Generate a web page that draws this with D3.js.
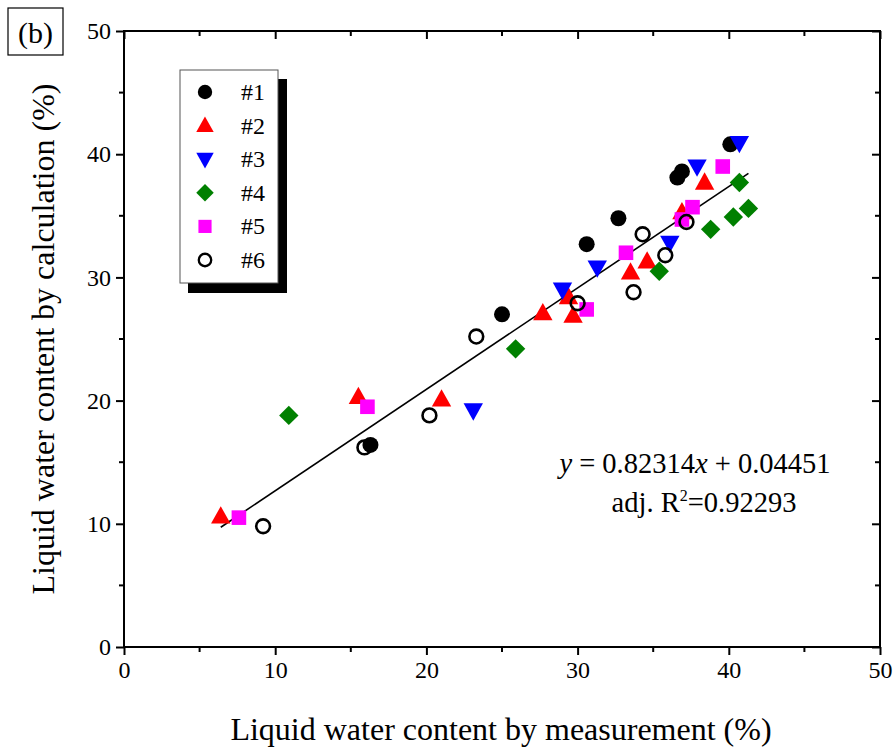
<!DOCTYPE html>
<html>
<head>
<meta charset="utf-8">
<script src="https://cdn.jsdelivr.net/npm/d3@7"></script>
<style>
  html, body { margin: 0; padding: 0; background: #fff; }
  svg { display: block; }
</style>
</head>
<body>
<svg id="chart" width="895" height="752"></svg>
<script>
// Measured vs calculated liquid water content (%) for six samples
const s1 = [[16.3,16.4],[25.0,27.0],[30.6,32.7],[32.7,34.8],[36.6,38.1],[36.9,38.6],[40.1,40.8]];
const s2 = [[6.4,10.6],[15.5,20.3],[21.0,20.1],[27.7,27.1],[29.4,28.4],[29.7,26.9],[33.5,30.4],[34.6,31.3],[36.9,35.3],[38.4,37.7]];
const s3 = [[23.1,19.2],[29.0,29.0],[31.3,30.8],[36.1,32.8],[37.9,39.0],[40.7,40.9]];
const s4 = [[10.9,18.8],[25.9,24.2],[35.4,30.5],[38.8,33.9],[40.3,34.9],[41.3,35.6],[40.7,37.7]];
const s5 = [[7.6,10.5],[16.1,19.5],[30.6,27.4],[33.2,32.0],[36.9,34.7],[37.6,35.7],[39.6,39.0]];
const s6 = [[9.2,9.8],[15.9,16.2],[20.2,18.8],[23.3,25.2],[30.0,27.9],[33.7,28.8],[34.3,33.5],[35.8,31.8],[37.2,34.5]];

const seriesNames = ["#1","#2","#3","#4","#5","#6"];
const majorTicks = [0,10,20,30,40,50];
const minorTicks = [5,15,25,35,45];

// Linear fit (fractions): y = 0.82314 x + 0.04451
const slope = 0.82314, intercept = 0.04451, adjR2 = "0.92293";

const svg = d3.select("#chart");
const L = 124, R = 880, T = 31, B = 647;
const x = d3.scaleLinear().domain([0,50]).range([L,R]);
const y = d3.scaleLinear().domain([0,50]).range([B,T]);

const series = [
  {name: seriesNames[0], data: s1, shape: "circle",   fill: "#000",    stroke: "#000"},
  {name: seriesNames[1], data: s2, shape: "triUp",    fill: "#ff0000", stroke: "#ff0000"},
  {name: seriesNames[2], data: s3, shape: "triDown",  fill: "#0000ff", stroke: "#0000ff"},
  {name: seriesNames[3], data: s4, shape: "diamond",  fill: "#008000", stroke: "#008000"},
  {name: seriesNames[4], data: s5, shape: "square",   fill: "#ff00ff", stroke: "#ff00ff"},
  {name: seriesNames[5], data: s6, shape: "open",     fill: "#fff",    stroke: "#000"}
];

function drawMarker(g, shape, fill, stroke, scale) {
  const k = scale || 1;
  if (shape === "circle") {
    g.append("circle").attr("r", 8*k).attr("fill", fill);
  } else if (shape === "open") {
    g.append("circle").attr("r", 6.9*k).attr("fill", "none").attr("stroke", stroke).attr("stroke-width", 2.6*k);
  } else if (shape === "triUp") {
    const s = 10.2*k;
    g.append("path").attr("d", `M0,${-s}L${s*0.95},${s*0.7}L${-s*0.95},${s*0.7}Z`).attr("fill", fill);
  } else if (shape === "triDown") {
    const s = 10.2*k;
    g.append("path").attr("d", `M0,${s}L${s*0.95},${-s*0.7}L${-s*0.95},${-s*0.7}Z`).attr("fill", fill);
  } else if (shape === "diamond") {
    const s = 9.7*k;
    g.append("path").attr("d", `M0,${-s}L${s},0L0,${s}L${-s},0Z`).attr("fill", fill);
  } else if (shape === "square") {
    const s = 7.3*k;
    g.append("rect").attr("x", -s).attr("y", -s).attr("width", 2*s).attr("height", 2*s).attr("fill", fill);
  }
}

// Regression line spanning the measured range
const allX = series.flatMap(s => s.data.map(d => d[0]));
const xMin = d3.min(allX), xMax = d3.max(allX);
const fit = v => (slope * v/100 + intercept) * 100;
svg.append("line")
  .attr("x1", x(xMin)).attr("y1", y(fit(xMin)))
  .attr("x2", x(xMax)).attr("y2", y(fit(xMax)))
  .attr("stroke", "#000").attr("stroke-width", 1.6);

// Points
series.forEach(s => {
  s.data.forEach(d => {
    const g = svg.append("g").attr("transform", `translate(${x(d[0])},${y(d[1])})`);
    drawMarker(g, s.shape, s.fill, s.stroke);
  });
});

// Frame
svg.append("rect").attr("x", L).attr("y", T).attr("width", R-L).attr("height", B-T)
  .attr("fill", "none").attr("stroke", "#000").attr("stroke-width", 2);

// Axes with ticks
const bottom = d3.axisBottom(x).tickValues(majorTicks).tickSize(8).tickPadding(6).tickFormat(d3.format("d"));
const left = d3.axisLeft(y).tickValues(majorTicks).tickSize(8).tickPadding(5).tickFormat(d3.format("d"));
const gx = svg.append("g").attr("transform", `translate(0,${B})`).call(bottom);
const gy = svg.append("g").attr("transform", `translate(${L},0)`).call(left);
[gx, gy].forEach(g => {
  g.select(".domain").remove();
  g.selectAll(".tick line").attr("stroke", "#000").attr("stroke-width", 2);
  g.selectAll(".tick text").attr("font-size", 24).attr("fill", "#000");
});
// minor ticks outward on bottom and left
svg.append("g").selectAll("line").data(minorTicks).join("line")
  .attr("x1", d => x(d)).attr("x2", d => x(d)).attr("y1", B).attr("y2", B+5)
  .attr("stroke", "#000").attr("stroke-width", 2);
svg.append("g").selectAll("line").data(minorTicks).join("line")
  .attr("y1", d => y(d)).attr("y2", d => y(d)).attr("x1", L).attr("x2", L-5)
  .attr("stroke", "#000").attr("stroke-width", 2);
// inward ticks on top and right
const topAxis = d3.axisBottom(x).tickValues(majorTicks).tickSize(8).tickFormat("");
const rightAxis = d3.axisLeft(y).tickValues(majorTicks).tickSize(8).tickFormat("");
const gt = svg.append("g").attr("transform", `translate(0,${T})`).call(topAxis);
const gr = svg.append("g").attr("transform", `translate(${R},0)`).call(rightAxis);
[gt, gr].forEach(g => { g.select(".domain").remove(); g.selectAll(".tick line").attr("stroke", "#000").attr("stroke-width", 2); });
svg.append("g").selectAll("line").data(minorTicks).join("line")
  .attr("x1", d => x(d)).attr("x2", d => x(d)).attr("y1", T).attr("y2", T+5)
  .attr("stroke", "#000").attr("stroke-width", 2);
svg.append("g").selectAll("line").data(minorTicks).join("line")
  .attr("y1", d => y(d)).attr("y2", d => y(d)).attr("x1", R).attr("x2", R-5)
  .attr("stroke", "#000").attr("stroke-width", 2);

// Axis titles
svg.append("text").attr("x", 501).attr("y", 740).attr("text-anchor", "middle")
  .attr("font-size", 32).text("Liquid water content by measurement (%)");
svg.append("text").attr("transform", `translate(54,${(T+B)/2}) rotate(-90)`).attr("text-anchor", "middle")
  .attr("font-size", 32).text("Liquid water content by calculation (%)");

// Panel label
svg.append("rect").attr("x", 8).attr("y", 8).attr("width", 55).attr("height", 47)
  .attr("fill", "#fff").attr("stroke", "#000").attr("stroke-width", 1.2);
svg.append("text").attr("x", 35.5).attr("y", 43).attr("text-anchor", "middle").attr("font-size", 30).text("(b)");

// Legend with drop shadow
const lg = svg.append("g");
lg.append("rect").attr("x", 188).attr("y", 79).attr("width", 99).attr("height", 214).attr("fill", "#000");
lg.append("rect").attr("x", 180).attr("y", 70).attr("width", 98).attr("height", 213)
  .attr("fill", "#fff").attr("stroke", "#555").attr("stroke-width", 1);
series.forEach((s, i) => {
  const cy = 92 + i * 33.6;
  const g = lg.append("g").attr("transform", `translate(205,${cy})`);
  drawMarker(g, s.shape, s.fill, s.stroke, 0.9);
  lg.append("text").attr("x", 241).attr("y", cy + 8).attr("font-size", 24).text(s.name);
});

// Fit equation
const eq = svg.append("text").attr("x", 695).attr("y", 473).attr("text-anchor", "middle").attr("font-size", 28.5);
eq.append("tspan").attr("font-style", "italic").text("y");
eq.append("tspan").text(` = ${slope}`);
eq.append("tspan").attr("font-style", "italic").text("x");
eq.append("tspan").text(` + ${intercept}`);
const r2 = svg.append("text").attr("x", 704).attr("y", 512).attr("text-anchor", "middle").attr("font-size", 28.5);
r2.append("tspan").text("adj. R");
r2.append("tspan").attr("font-size", 16).attr("dy", -11).text("2");
r2.append("tspan").attr("dy", 11).text("=" + adjR2);

// Serif face for every label
svg.selectAll("text").style("font-family", "Liberation Serif").style("fill", "#000");
</script>
</body>
</html>
